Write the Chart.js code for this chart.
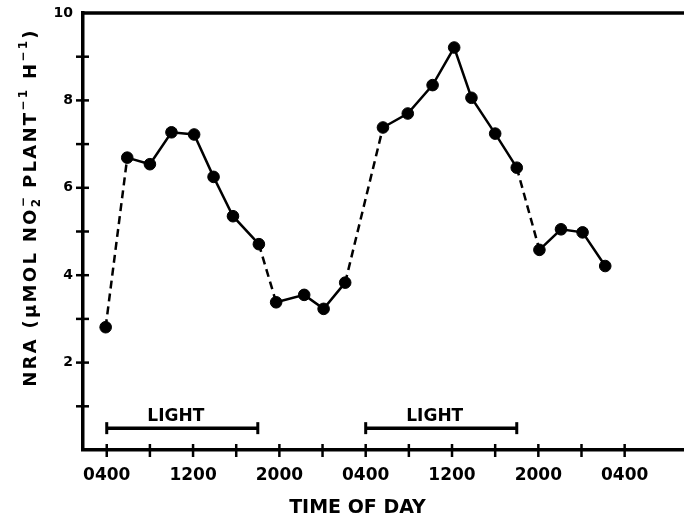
<!DOCTYPE html>
<html><head><meta charset="utf-8">
<script src="https://cdn.jsdelivr.net/npm/chart.js@4"></script>
<style>html,body{margin:0;padding:0;background:#fff;} canvas{display:block;}</style>
</head><body>
<canvas id="c" width="684" height="518"></canvas>
<script>
// Time of day in hours from midnight of day 1 (e.g. 28 = 0400 on day 2)
const hours = [3.9, 5.9, 8.0, 10.0, 12.1, 13.9, 15.7, 18.1, 19.7, 22.3, 24.1, 26.1, 29.6, 31.9, 34.2, 36.2, 37.8, 40.0, 42.0, 44.1, 46.1, 48.1, 50.2];
// NRA, µmol NO2- plant-1 h-1
const nra = [2.81, 6.69, 6.54, 7.27, 7.22, 6.25, 5.35, 4.71, 3.38, 3.55, 3.23, 3.83, 7.38, 7.70, 8.35, 9.21, 8.06, 7.24, 6.46, 4.58, 5.05, 4.98, 4.21];
// segments (start index) that bridge a light/dark transition, drawn dashed
const transitionSegments = [0, 7, 11, 18];
// light periods
const lightStart = [4, 28];
const lightEnd = [18, 42];
const lightLevel = 0.5;
const lightLabel = 'LIGHT';
// axes
const xTickHours = [4, 8, 12, 16, 20, 24, 28, 32, 36, 40, 44, 48, 52];
const xTickLabels = ['0400', '', '1200', '', '2000', '', '0400', '', '1200', '', '2000', '', '0400'];
const yTickValues = [0, 1, 2, 3, 4, 5, 6, 7, 8, 9, 10];
const yTickLabels = ['', '', '2', '', '4', '', '6', '', '8', '', '10'];
const xTitle = 'TIME OF DAY';
const yTitleParts = [
  {t: 'NRA (μMOL NO', k: 'main'},
  {t: '2', k: 'sub', over: '−'},
  {t: ' PLANT', k: 'main'},
  {t: '−1', k: 'sup'},
  {t: ' H', k: 'main'},
  {t: '−1', k: 'sup'},
  {t: ')', k: 'main'}
];

const FONT = '"DejaVu Sans", sans-serif';

const mainSet = {
  data: hours.map((h, i) => ({x: h, y: nra[i]})),
  borderColor: '#000', backgroundColor: '#000', borderWidth: 2.5,
  pointRadius: 5.8, pointBorderWidth: 1, pointStyle: 'circle',
  tension: 0, showLine: true,
  segment: { borderDash: c => transitionSegments.includes(c.p0DataIndex) ? [8, 5] : undefined }
};
const lightSets = lightStart.map((s, i) => ({
  data: [{x: s, y: lightLevel}, {x: lightEnd[i], y: lightLevel}],
  borderColor: '#000', backgroundColor: '#000', borderWidth: 3.5,
  pointStyle: 'line', pointRotation: 90, pointRadius: 6, pointBorderWidth: 3, showLine: true
}));

const decor = {
  id: 'decor',
  beforeDraw(chart) {
    const c = chart.ctx; c.save(); c.fillStyle = '#fff'; c.fillRect(0, 0, chart.width, chart.height); c.restore();
  },
  afterDraw(chart) {
    const {ctx, chartArea: a, scales: {x, y}} = chart;
    ctx.save();
    ctx.strokeStyle = '#000'; ctx.fillStyle = '#000';
    // top frame line
    ctx.lineWidth = 3.5;
    ctx.beginPath(); ctx.moveTo(a.left - 1.75, a.top); ctx.lineTo(a.right, a.top); ctx.stroke();
    // tick marks crossing the axes
    ctx.lineWidth = 2.5;
    x.ticks.forEach(t => {
      const px = x.getPixelForValue(t.value);
      ctx.beginPath(); ctx.moveTo(px, a.bottom - 6); ctx.lineTo(px, a.bottom + 7); ctx.stroke();
    });
    y.ticks.forEach(t => {
      if (t.value <= y.min || t.value >= y.max) return;
      const py = y.getPixelForValue(t.value);
      ctx.beginPath(); ctx.moveTo(a.left - 7, py); ctx.lineTo(a.left + 6, py); ctx.stroke();
    });
    // LIGHT labels
    ctx.font = 'bold 17px ' + FONT;
    ctx.textAlign = 'center'; ctx.textBaseline = 'middle';
    lightStart.forEach((s, i) => {
      const mid = (s + lightEnd[i]) / 2 - 0.6;
      ctx.fillText(lightLabel, x.getPixelForValue(mid), y.getPixelForValue(lightLevel) - 12);
    });
    // x title
    ctx.font = 'bold 19px ' + FONT;
    ctx.fillText(xTitle, (a.left + a.right) / 2 - 26, 508);
    // y title (rotated, with sub/superscripts)
    const mainF = 'bold 18px ' + FONT, smallF = 'bold 12px ' + FONT;
    ctx.textAlign = 'left'; ctx.textBaseline = 'alphabetic';
    ctx.letterSpacing = '2.3px';
    let total = 0;
    const widths = yTitleParts.map(p => { ctx.font = p.k === 'main' ? mainF : smallF; const w = ctx.measureText(p.t).width; total += w; return w; });
    ctx.translate(29, 207.5);
    ctx.rotate(-Math.PI / 2);
    let cx = -total / 2;
    const base = 6.5;
    yTitleParts.forEach((p, i) => {
      if (p.k === 'main') { ctx.font = mainF; ctx.fillText(p.t, cx, base); }
      else if (p.k === 'sup') { ctx.font = smallF; ctx.fillText(p.t, cx, base - 9); }
      else { ctx.font = smallF; ctx.fillText(p.t, cx, base + 4); if (p.over) ctx.fillText(p.over, cx, base - 9); }
      cx += widths[i];
    });
    ctx.restore();
  }
};

new Chart(document.getElementById('c'), {
  type: 'scatter',
  data: { datasets: [mainSet, ...lightSets] },
  options: {
    responsive: false, animation: false,
    layout: { autoPadding: false, padding: { left: 53, top: 13, right: 0, bottom: 0 } },
    plugins: { legend: { display: false }, tooltip: { enabled: false } },
    scales: {
      x: {
        type: 'linear', min: 1.8, max: 57.5,
        afterBuildTicks: s => { s.ticks = xTickHours.map(v => ({value: v})); },
        afterFit: s => { s.height = 68; s.paddingLeft = 0; s.paddingRight = 0; },
        grid: { display: false, drawTicks: false },
        border: { display: true, color: '#000', width: 3.5 },
        ticks: {
          callback: (v, i) => xTickLabels[i],
          font: { family: FONT, size: 17, weight: 'bold' }, color: '#000',
          padding: 15, maxRotation: 0, autoSkip: false
        }
      },
      y: {
        type: 'linear', min: 0, max: 10,
        afterBuildTicks: s => { s.ticks = yTickValues.map(v => ({value: v})); },
        afterFit: s => { s.width = 30; s.paddingTop = 0; s.paddingBottom = 0; },
        grid: { display: false, drawTicks: false },
        border: { display: true, color: '#000', width: 3.5 },
        ticks: {
          callback: (v, i) => yTickLabels[i],
          font: { family: FONT, size: 14, weight: 'bold' }, color: '#000',
          padding: 10, autoSkip: false
        }
      }
    }
  },
  plugins: [decor]
});
</script>
</body></html>
